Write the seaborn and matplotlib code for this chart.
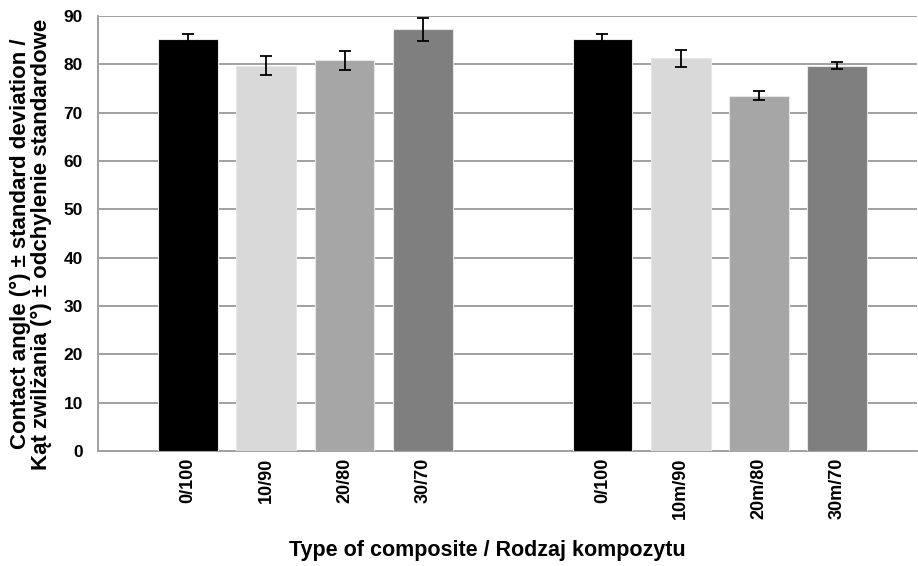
import matplotlib
matplotlib.use("Agg")
import matplotlib.pyplot as plt
import numpy as np
import pandas as pd
import seaborn as sns

# values (contact angle, degrees)
groups = ["A", "B"]
series = ["s0", "s10", "s20", "s30"]
labels_a = ["0/100", "10/90", "20/80", "30/70"]
labels_b = ["0/100", "10m/90", "20m/80", "30m/70"]
means_a = [85.2, 79.7, 80.8, 87.2]
means_b = [85.2, 81.2, 73.5, 79.7]
sd_a = [1.1, 2.0, 1.9, 2.4]
sd_b = [1.1, 1.7, 1.0, 0.75]
colors = ["#000000", "#d9d9d9", "#a6a6a6", "#7f7f7f"]

df = pd.DataFrame({
    "group": np.repeat(groups, 4),
    "series": series * 2,
    "angle": means_a + means_b,
    "sd": sd_a + sd_b,
    "label": labels_a + labels_b,
})

sns.set_style("white")
plt.rcParams["font.family"] = ["Liberation Sans", "DejaVu Sans"]
plt.rcParams["font.weight"] = "bold"
plt.rcParams.update({"text.color": "black", "axes.labelcolor": "black",
                     "xtick.color": "black", "ytick.color": "black"})

fig = plt.figure(figsize=(9.18, 5.66), dpi=100)
ax = fig.add_axes([0.107, 0.203, 0.892, 0.769])

sns.barplot(data=df, x="group", y="angle", hue="series", palette=colors,
            width=0.755, gap=0.234, edgecolor="#e6e6e6", linewidth=0.8,
            legend=False, ax=ax, zorder=3)

# error bars at bar centres (patches sorted left to right)
bars = sorted([p for p in ax.patches if p.get_height() > 0], key=lambda p: p.get_x())
xc = [p.get_x() + p.get_width() / 2 for p in bars]
ax.errorbar(xc, df["angle"], yerr=df["sd"], fmt="none", ecolor="black",
            elinewidth=1.3, capsize=4, capthick=1.3, zorder=4)

ax.set_ylim(0, 90)
ax.set_yticks(range(0, 91, 10))
ax.set_xlim(-0.5, 1.476)
ax.yaxis.grid(True, color="#a0a0a0", linewidth=1.4, zorder=0)
ax.set_axisbelow(True)

ax.set_xticks(xc)
ax.set_xticklabels(df["label"], rotation=90, fontsize=13, fontweight="bold")
ax.tick_params(axis="x", length=0, pad=5)
ax.tick_params(axis="y", labelsize=12.5, length=0, pad=11)
for t in ax.get_yticklabels():
    t.set_fontweight("bold")

for s in ["top", "right"]:
    ax.spines[s].set_visible(False)
ax.spines["left"].set_color("#a0a0a0")
ax.spines["left"].set_linewidth(1.4)
ax.spines["bottom"].set_color("#a0a0a0")
ax.spines["bottom"].set_linewidth(1.4)

ax.set_ylabel("Contact angle (°) ± standard deviation /\nKąt zwilżania (°) ± odchylenie standardowe",
              fontsize=16, fontweight="bold", linespacing=1.0)
ax.yaxis.set_label_coords(-0.056, 0.476)
ax.set_xlabel("Type of composite / Rodzaj kompozytu", fontsize=15.5,
              fontweight="bold")
ax.xaxis.set_label_coords(0.475, -0.205)

fig.savefig("out.png", dpi=100)
